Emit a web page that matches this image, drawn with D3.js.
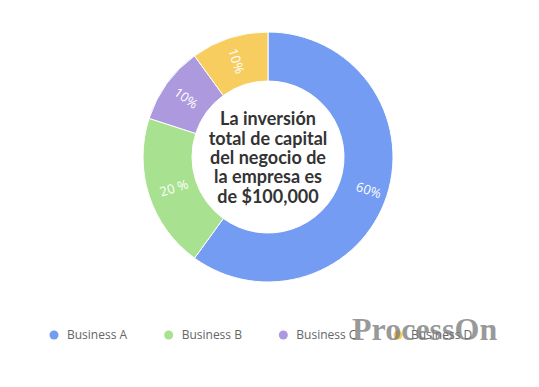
<!DOCTYPE html>
<html>
<head>
<meta charset="utf-8">
<script src="https://cdn.jsdelivr.net/npm/d3@7"></script>
<style>
    body { margin: 0; background: #fff; }
    svg { display: block; }
</style>
</head>
<body>
<div id="chart"></div>
<script>
const categories = ["Business A", "Business B", "Business C", "Business D"];
const values = [60, 20, 10, 10];
const labels = ["60%", "20 %", "10%", "10%"];
const colors = ["#739cf2", "#a8e290", "#ad99de", "#f6cd5e"];
const centerLines = ["La inversión", "total de capital", "del negocio de", "la empresa es", "de $100,000"];

const width = 539, height = 387;
const cx = 268, cy = 157;
const outerR = 125, innerR = 76;

const svg = d3.select("#chart").append("svg")
    .attr("width", width)
    .attr("height", height);

const pie = d3.pie().sort(null).value(d => d.value);
const arcs = pie(categories.map((c, i) => ({ name: c, value: values[i], label: labels[i] })));

const arc = d3.arc().innerRadius(innerR).outerRadius(outerR);

const g = svg.append("g").attr("transform", `translate(${cx},${cy})`);

g.selectAll("path")
    .data(arcs)
    .enter().append("path")
    .attr("d", arc)
    .attr("fill", (d, i) => colors[i])
    .attr("stroke", "#fff")
    .attr("stroke-width", 1);

// radial labels, rotated along the slice middle
const labelR = [106, 99, 101, 101];
g.selectAll("text.pct")
    .data(arcs)
    .enter().append("text")
    .attr("class", "pct")
    .attr("transform", (d, i) => {
        const a = (d.startAngle + d.endAngle) / 2 - Math.PI / 2;
        const x = Math.cos(a) * labelR[i], y = Math.sin(a) * labelR[i];
        let deg = a * 180 / Math.PI;
        if (deg > 90 && deg < 270) deg -= 180;
        return `translate(${x},${y}) rotate(${deg})`;
    })
    .attr("text-anchor", "middle")
    .attr("dominant-baseline", "central")
    .attr("font-family", "'Open Sans', sans-serif")
    .attr("font-size", 13)
    .attr("fill", "#fff")
    .text(d => d.data.label);

// centre caption
const lineH = 19.3;
g.append("text")
    .attr("text-anchor", "middle")
    .attr("font-family", "Lato, sans-serif")
    .attr("font-weight", "bold")
    .attr("font-size", 18)
    .attr("fill", "#333")
    .selectAll("tspan")
    .data(centerLines)
    .enter().append("tspan")
    .attr("x", 0)
    .attr("y", (d, i) => (i - 2) * lineH + 7)
    .text(d => d);

// legend
const legendX = d3.scalePoint().domain(categories).range([54, 398]);
const legend = svg.append("g").selectAll("g")
    .data(categories)
    .enter().append("g")
    .attr("transform", d => `translate(${legendX(d)},335)`);

legend.append("circle")
    .attr("r", 4.5)
    .attr("fill", (d, i) => colors[i]);

legend.append("text")
    .attr("x", 13)
    .attr("dy", "0.35em")
    .attr("font-family", "'Open Sans', sans-serif")
    .attr("font-size", 12)
    .attr("fill", "#666")
    .text(d => d);

// watermark
svg.append("text")
    .attr("x", 352)
    .attr("y", 340)
    .attr("font-family", "'Liberation Serif', serif")
    .attr("font-weight", "bold")
    .attr("font-size", 32)
    .attr("fill", "#777")
    .attr("fill-opacity", 0.75)
    .text("ProcessOn");
</script>
</body>
</html>
